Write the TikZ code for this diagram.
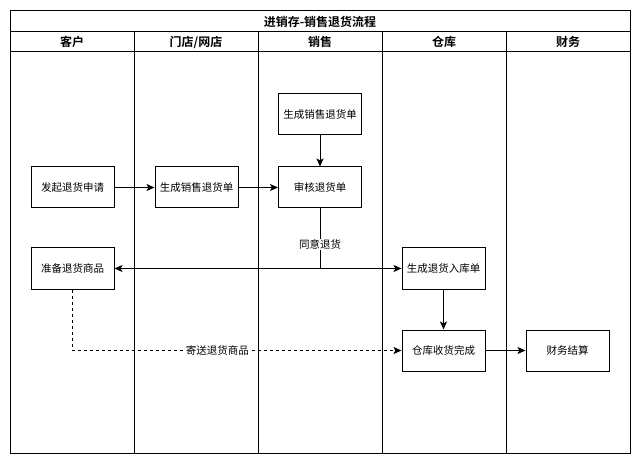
\documentclass[tikz,border=0pt]{standalone}
\usepackage{fontspec}
\setmainfont{Noto Sans CJK SC}[BoldFont={Noto Sans CJK SC Bold}]
\usetikzlibrary{arrows.meta}
\begin{document}
\begin{tikzpicture}[x=1pt,y=-1pt,
  lane/.style={draw=black,line width=1pt},
  hdr/.style={font=\bfseries\fontsize{12}{14}\selectfont,inner sep=0pt},
  box/.style={draw=black,line width=1pt,fill=white,minimum width=83pt,minimum height=41pt,inner sep=0pt,font=\fontsize{10.5}{12}\selectfont},
  arr/.style={draw=black,line width=1pt,-{Stealth[length=8pt,width=7pt,inset=1.8pt]}},
  darr/.style={draw=black,line width=1pt,{Stealth[length=8pt,width=7pt,inset=1.8pt]}-{Stealth[length=8pt,width=7pt,inset=1.8pt]}},
  lbl/.style={fill=white,inner sep=1pt,font=\fontsize{10.5}{12}\selectfont}]
\useasboundingbox (0,0) rectangle (640,465);
% pool
\draw[lane] (10,11) rectangle (630,453);
\draw[lane] (10,32) -- (630,32);
\draw[lane] (10,52) -- (630,52);
\foreach \x in {134,258,382,506} \draw[lane] (\x,32) -- (\x,453);
\node[hdr] (title) at (320,21.5) {进销存-销售退货流程};
\node[hdr] (h1) at (72,42) {客户};
\node[hdr] (h2) at (196,42) {门店/网店};
\node[hdr] (h3) at (320,42) {销售};
\node[hdr] (h4) at (444,42) {仓库};
\node[hdr] (h5) at (568,42) {财务};
% boxes
\node[box] (s1) at (320,114.5) {生成销售退货单};
\node[box] (a) at (72.5,187.5) {发起退货申请};
\node[box] (b) at (196.5,187.5) {生成销售退货单};
\node[box] (c) at (320,187.5) {审核退货单};
\node[box] (d) at (72.5,268.5) {准备退货商品};
\node[box] (e) at (443.5,268.5) {生成退货入库单};
\node[box] (f) at (443.5,350.5) {仓库收货完成};
\node[box] (g) at (567.5,350.5) {财务结算};
% connectors
\draw[arr] (s1) -- (c);
\draw[arr] (a) -- (b);
\draw[arr] (b) -- (c);
\coordinate (j) at (c.south |- d.east);
\draw[lane] (c.south) -- node[lbl,pos=0.6] {同意退货} (j);
\draw[darr] (d.east) -- (e.west);
\draw[arr] (e) -- (f);
\draw[arr,dash pattern=on 3pt off 3pt] (d.south) |- node[lbl,pos=0.72] {寄送退货商品} (f.west);
\draw[arr] (f) -- (g);
\end{tikzpicture}
\end{document}
